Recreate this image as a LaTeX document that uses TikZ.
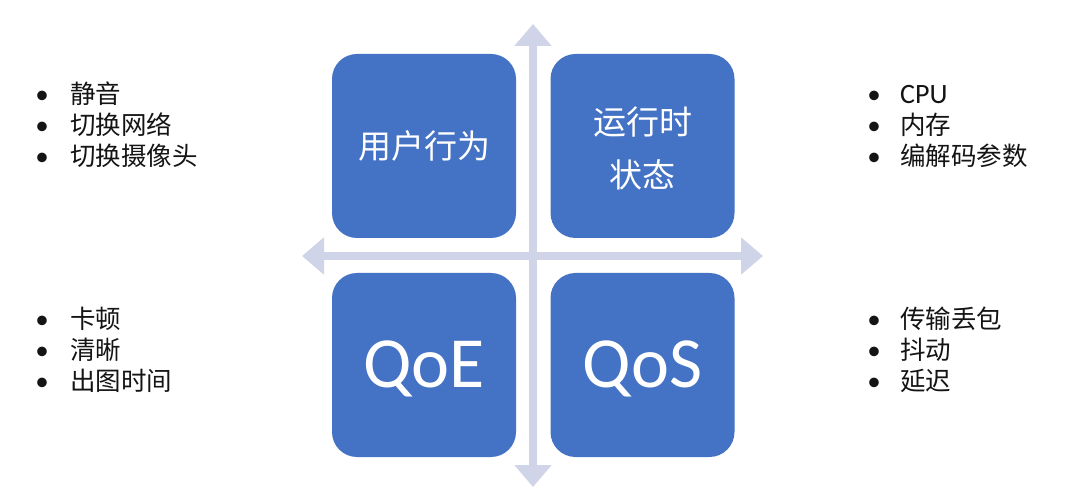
\documentclass[tikz,border=0pt]{standalone}
\usepackage{fontspec}
\setmainfont{Carlito}
\newfontfamily\cjk{Noto Sans CJK SC}
\usetikzlibrary{arrows.meta}
\definecolor{boxblue}{RGB}{68,114,196}
\definecolor{axiscol}{RGB}{208,212,232}
\definecolor{txt}{RGB}{20,20,20}
\tikzset{
  quad/.style={fill=boxblue, draw=none, rounded corners=25pt, minimum width=184pt, minimum height=184pt, inner sep=0pt},
  boxtext/.style={text=white, font=\cjk\fontsize{33}{53}\selectfont, align=center, inner sep=0pt},
  bigtext/.style={text=white, font=\fontsize{72}{80}\selectfont, inner sep=0pt, anchor=base},
  axis/.style={draw=axiscol, line width=8pt, {Triangle[length=22pt,width=36pt,fill=axiscol]}-{Triangle[length=22pt,width=36pt,fill=axiscol]}},
  bul/.style={text=txt, font=\fontsize{27}{27}\selectfont, anchor=base, inner sep=0pt},
  item/.style={text=txt, font=\cjk\fontsize{25.5}{25.5}\selectfont, anchor=base west, inner sep=0pt},
  itemlat/.style={text=txt, font=\fontsize{28}{28}\selectfont, anchor=base west, inner sep=0pt},
}
\begin{document}
\begin{tikzpicture}[x=1pt,y=-1pt]
\useasboundingbox[fill=white] (0,0) rectangle (1080,497);
% axes
\coordinate (axT) at (533,24);
\coordinate (axB) at (533,487);
\coordinate (axL) at (302,256);
\coordinate (axR) at (763,256);
\draw[axis] (axB) -- (axT);
\draw[axis] (axL) -- (axR);
% boxes
\node[quad] (tl) at (424,146) {};
\node[quad] (tr) at (642.5,146) {};
\node[quad] (bl) at (424,365) {};
\node[quad] (br) at (642.5,365) {};
\node[boxtext] (tlt) at (tl.center) {用户行为};
\node[boxtext] (trt) at ([yshift=-2.5pt]tr.center) {运行时\\状态};
\node[bigtext] (blt) at (424,388) {QoE};
\node[bigtext] (brt) at (642.5,388) {QoS};
% left top list
\foreach \t [count=\i] in {静音,切换网络,切换摄像头}{
  \node[bul] (lb\i) at (42,{94+31*(\i-1)+9.5}) {•};
  \node[item] (li\i) at (70,{94+31*(\i-1)+9.5}) {\t};
}
% left bottom list
\foreach \t [count=\i] in {卡顿,清晰,出图时间}{
  \node[bul] (lbb\i) at (42,{319+31*(\i-1)+9.5}) {•};
  \node[item] (lib\i) at (70,{319+31*(\i-1)+9.5}) {\t};
}
% right top list
\node[bul] (rb1) at (874,{94+9.5}) {•};
\node[itemlat] (ri1) at (900,{94+10}) {CPU};
\foreach \t [count=\i from 2] in {内存,编解码参数}{
  \node[bul] (rb\i) at (874,{94+31*(\i-1)+9.5}) {•};
  \node[item] (ri\i) at (900,{94+31*(\i-1)+9.5}) {\t};
}
% right bottom list
\foreach \t [count=\i] in {传输丢包,抖动,延迟}{
  \node[bul] (rbb\i) at (874,{319+31*(\i-1)+9.5}) {•};
  \node[item] (rib\i) at (900,{319+31*(\i-1)+9.5}) {\t};
}
\end{tikzpicture}
\end{document}
